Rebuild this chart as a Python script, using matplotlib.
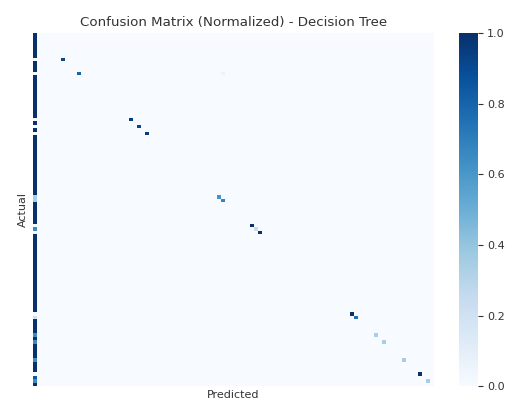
import numpy as np
import matplotlib
matplotlib.use('Agg')
import matplotlib.pyplot as plt
import seaborn as sns

# Share of each actual class predicted as class 0 (first column), row by row
first_col = [1.0, 1.0, 1.0, 1.0, 1.0, 1.0, 1.0, 0.0, 1.0, 1.0,
             1.0, 0.0, 1.0, 1.0, 1.0, 1.0, 1.0, 1.0, 1.0, 1.0,
             1.0, 1.0, 1.0, 1.0, 0.0, 1.0, 0.0, 1.0, 0.0, 1.0,
             1.0, 1.0, 1.0, 1.0, 1.0, 1.0, 1.0, 1.0, 1.0, 1.0,
             1.0, 1.0, 1.0, 1.0, 1.0, 1.0, 0.35, 0.35, 1.0, 1.0,
             1.0, 1.0, 1.0, 1.0, 0.0, 0.65, 0.0, 1.0, 1.0, 1.0,
             1.0, 1.0, 1.0, 1.0, 1.0, 1.0, 1.0, 1.0, 1.0, 1.0,
             1.0, 1.0, 1.0, 1.0, 1.0, 1.0, 1.0, 1.0, 1.0, 0.0,
             0.2, 1.0, 1.0, 1.0, 1.0, 0.65, 1.0, 0.65, 1.0, 1.0,
             1.0, 1.0, 0.65, 1.0, 1.0, 1.0, 0.0, 0.85, 0.65, 1.0]

# Correct predictions on the diagonal
diag_classes = [7, 11, 24, 26, 28, 46, 47, 54, 55, 56, 79, 80, 85, 87, 92, 96, 98]
diag_values = [0.92, 0.8, 0.95, 0.92, 0.95, 0.62, 0.68, 1.0, 0.25, 1.0, 1.0, 0.75, 0.35, 0.35, 0.35, 1.0, 0.35]

# The one faint off-diagonal cell
off_row = 11
off_col = 47
off_value = 0.06

n_classes = len(first_col)
cm = np.zeros((n_classes, n_classes))
cm[:, 0] = first_col
for c, v in zip(diag_classes, diag_values):
    cm[c, c] = v
cm[off_row, off_col] = off_value

fig = plt.figure(figsize=(5.05, 4.0), dpi=100)
ax = fig.add_axes([33.3 / 505, 1 - 386.3 / 400, 400.4 / 505, 353.5 / 400])
cax = fig.add_axes([458.5 / 505, 1 - 386.3 / 400, 19.5 / 505, 353.5 / 400])

sns.heatmap(cm, cmap='Blues', vmin=0, vmax=1, xticklabels=False, yticklabels=False,
            ax=ax, cbar_ax=cax)
cax.tick_params(labelsize=8, length=3.5, pad=3, labelcolor='#333333', color='#333333')

ax.set_title('Confusion Matrix (Normalized) - Decision Tree', fontsize=9.6, pad=5, color='#333333')
ax.set_xlabel('Predicted', fontsize=8, labelpad=2.5, color='#333333')
ax.set_ylabel('Actual', fontsize=8, labelpad=4, color='#333333')

plt.savefig('out.png', dpi=100)
